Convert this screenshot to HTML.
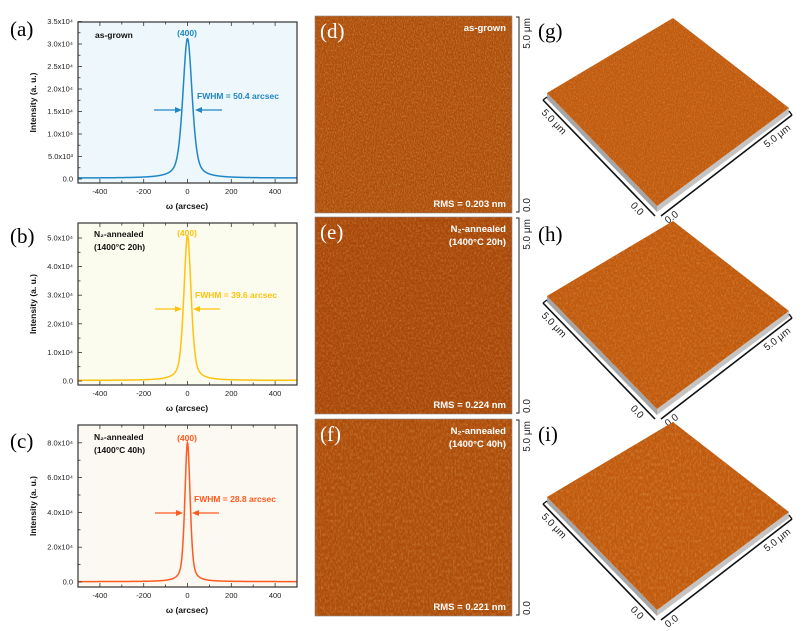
<!DOCTYPE html>
<html><head><meta charset="utf-8"><style>
html,body{margin:0;padding:0;background:#fff;}
svg{display:block;}
text{font-family:"Liberation Sans",Arial,sans-serif;}
.lab{font-family:"Liberation Serif",serif;font-size:21px;}
.tk{font-size:7.5px;fill:#222;}
.ax{font-size:8.5px;font-weight:bold;fill:#111;}
.w{fill:#fff;font-weight:bold;font-size:9.5px;}
.sb{font-size:10px;fill:#222;}
</style></head><body>
<svg id="s" width="809" height="631" viewBox="0 0 809 631" xmlns="http://www.w3.org/2000/svg">
<defs id="defs">
<filter id="n1" x="0" y="0" width="100%" height="100%">
 <feTurbulence type="fractalNoise" baseFrequency="0.9 0.5" numOctaves="2" seed="3"/>
 <feColorMatrix type="matrix" values="0 0 0 0 1  0 0 0 0 0.75  0 0 0 0 0.3  1.4 0 0 0 -0.55"/>
</filter>
<filter id="n2" x="0" y="0" width="100%" height="100%">
 <feTurbulence type="fractalNoise" baseFrequency="0.6 0.4" numOctaves="3" seed="7"/>
 <feColorMatrix type="matrix" values="0 0 0 0 1  0 0 0 0 0.7  0 0 0 0 0.25  1.4 0 0 0 -0.55"/>
</filter>
<filter id="n3" x="0" y="0" width="100%" height="100%">
 <feTurbulence type="fractalNoise" baseFrequency="0.6 0.3" numOctaves="3" seed="11"/>
 <feColorMatrix type="matrix" values="0 0 0 0 1  0 0 0 0 0.7  0 0 0 0 0.25  1.4 0 0 0 -0.55"/>
</filter>
</defs>
<g id="plots"></g>

<text class="lab" x="10" y="36">(a)</text>
<text class="lab" x="10" y="243">(b)</text>
<text class="lab" x="10" y="448">(c)</text>

<text x="95" y="38" font-size="8.5" font-weight="bold" fill="#111">as-grown</text>
<text x="187" y="36" font-size="8.5" font-weight="bold" fill="#1f86c8" text-anchor="middle">(400)</text>
<text x="197" y="99" font-size="8.5" font-weight="bold" fill="#1f86c8">FWHM = 50.4 arcsec</text>
<text x="94" y="237" font-size="8.5" font-weight="bold" fill="#111">N₂-annealed</text>
<text x="94" y="250" font-size="8.5" font-weight="bold" fill="#111">(1400°C 20h)</text>
<text x="187" y="236" font-size="8.5" font-weight="bold" fill="#ffc20e" text-anchor="middle">(400)</text>
<text x="195" y="298" font-size="8.5" font-weight="bold" fill="#ffc20e">FWHM = 39.6 arcsec</text>
<text x="94" y="440" font-size="8.5" font-weight="bold" fill="#111">N₂-annealed</text>
<text x="94" y="453" font-size="8.5" font-weight="bold" fill="#111">(1400°C 40h)</text>
<text x="187" y="441" font-size="8.5" font-weight="bold" fill="#ff5a1f" text-anchor="middle">(400)</text>
<text x="194" y="502" font-size="8.5" font-weight="bold" fill="#ff5a1f">FWHM = 28.8 arcsec</text>

<g id="afm"></g>
<g id="afm3"></g>
</svg>
<script>
const NS="http://www.w3.org/2000/svg";
function el(p,t,a,txt){const e=document.createElementNS(NS,t);for(const k in a)e.setAttribute(k,a[k]);if(txt!==undefined)e.textContent=txt;p.appendChild(e);return e;}
const P=document.getElementById('plots');
const X0=78,X1=297;const xs=v=>X0+(v+500)*0.219;
const cfg=[
 {top:22,bot:183,zero:179,per:45,peak:3.1,hw:25.2,col:'#1f86c8',bg:'#eef7fb',ticks:[[0,'0.0'],[0.5,'5.0x10³'],[1,'1.0x10⁴'],[1.5,'1.5x10⁴'],[2,'2.0x10⁴'],[2.5,'2.5x10⁴'],[3,'3.0x10⁴'],[3.5,'3.5x10⁴']],ay:110,ar:[154,182,222,195]},
 {top:223,bot:385,zero:381,per:28.6,peak:5.05,hw:19.8,col:'#ffc20e',bg:'#fcfcee',ticks:[[0,'0.0'],[1,'1.0x10⁴'],[2,'2.0x10⁴'],[3,'3.0x10⁴'],[4,'4.0x10⁴'],[5,'5.0x10⁴']],ay:309,ar:[155,182,220,193]},
 {top:425,bot:587,zero:582,per:17.4,peak:8.0,hw:14.4,col:'#ff5a1f',bg:'#fcf8f2',ticks:[[0,'0.0'],[2,'2.0x10⁴'],[4,'4.0x10⁴'],[6,'6.0x10⁴'],[8,'8.0x10⁴']],ay:513,ar:[155,183,219,192]}
];
cfg.forEach(c=>{
 el(P,'rect',{x:X0,y:c.top,width:X1-X0,height:c.bot-c.top,fill:c.bg});
 let d='';
 for(let v=-500;v<=500;v+=1){
  const u=v/c.hw;const L=1/(1+u*u);const G=Math.exp(-Math.LN2*u*u);
  const y=c.peak*(0.5*L+0.5*G)+0.02;
  d+=(v==-500?'M':'L')+xs(v).toFixed(2)+','+(c.zero-y*c.per).toFixed(2);
 }
 el(P,'path',{d:d,fill:'none',stroke:c.col,'stroke-width':1.5});
 el(P,'rect',{x:X0,y:c.top,width:X1-X0,height:c.bot-c.top,fill:'none',stroke:'#333','stroke-width':1.2});
 for(let v=-400;v<=400;v+=100){const x=xs(v);const L=(v%200==0)?4:2.5;
  el(P,'line',{x1:x,y1:c.bot,x2:x,y2:c.bot-L,stroke:'#333','stroke-width':0.8});
  el(P,'line',{x1:x,y1:c.top,x2:x,y2:c.top+L,stroke:'#333','stroke-width':0.8});
  if(v%200==0)el(P,'text',{x:x,y:c.bot+11,class:'tk','text-anchor':'middle'},v==0?'0':String(v));}
 el(P,'text',{x:187,y:c.bot+26,class:'ax','text-anchor':'middle'},'ω (arcsec)');
 const step=c.ticks[1][0];
 c.ticks.forEach(([v,l])=>{const y=c.zero-v*c.per;
  el(P,'line',{x1:X0,y1:y,x2:X0+4,y2:y,stroke:'#333','stroke-width':0.8});
  el(P,'text',{x:X0-5,y:y+2.5,class:'tk','text-anchor':'end'},l);
  const ym=c.zero-(v+step/2)*c.per; if(ym>c.top+2) el(P,'line',{x1:X0,y1:ym,x2:X0+2.5,y2:ym,stroke:'#333','stroke-width':0.8});
 });
 const cy=(c.top+c.bot)/2;
 el(P,'text',{x:0,y:0,class:'ax','text-anchor':'middle',transform:`translate(36,${cy}) rotate(-90)`},'Intensity (a. u.)');
 const [a1,a2,b1,b2]=c.ar;
 el(P,'line',{x1:a1,y1:c.ay,x2:a2-5,y2:c.ay,stroke:c.col,'stroke-width':1.2});
 el(P,'polygon',{points:`${a2},${c.ay} ${a2-7},${c.ay-3} ${a2-7},${c.ay+3}`,fill:c.col});
 el(P,'line',{x1:b1,y1:c.ay,x2:b2+5,y2:c.ay,stroke:c.col,'stroke-width':1.2});
 el(P,'polygon',{points:`${b2},${c.ay} ${b2+7},${c.ay-3} ${b2+7},${c.ay+3}`,fill:c.col});
});
const A=document.getElementById('afm');
const afm=[
 {y:16,f:'n1',base:'#ad4c0a',op:0.5,l:'(d)',t:['as-grown'],rms:'RMS = 0.203 nm'},
 {y:217,f:'n2',base:'#a84709',op:0.4,l:'(e)',t:['N₂-annealed','(1400°C 20h)'],rms:'RMS = 0.224 nm'},
 {y:419,f:'n3',base:'#ad4d0b',op:0.4,l:'(f)',t:['N₂-annealed','(1400°C 40h)'],rms:'RMS = 0.221 nm'}
];
afm.forEach(a=>{
 el(A,'rect',{x:315,y:a.y,width:197,height:197,fill:a.base});
 el(A,'rect',{x:315,y:a.y,width:197,height:197,filter:`url(#${a.f})`,opacity:a.op});
 el(A,'rect',{x:315,y:a.y,width:197,height:197,fill:'none',stroke:'#888','stroke-width':0.6});
 el(A,'text',{x:320,y:a.y+22,class:'lab',fill:'#fff'},a.l);
 a.t.forEach((t,i)=>el(A,'text',{x:506,y:a.y+15+i*13,class:'w','text-anchor':'end'},t));
 el(A,'text',{x:506,y:a.y+191,class:'w','text-anchor':'end'},a.rms);
 el(A,'path',{d:`M516,${a.y+1} H519 V${a.y+196} H516`,fill:'none',stroke:'#222','stroke-width':1});
 el(A,'text',{x:0,y:0,class:'sb','text-anchor':'end',transform:`translate(530,${a.y+2}) rotate(-90)`},'5.0 μm');
 el(A,'text',{x:0,y:0,class:'sb','text-anchor':'start',transform:`translate(530,${a.y+196}) rotate(-90)`},'0.0');
});
const B=document.getElementById('afm3');
const defs=document.getElementById('defs');
[0,203,404].forEach((dy,i)=>{
 const T=[673,18+dy],Lv=[547,93+dy],R=[789,108+dy],Bm=[657,206+dy];const h=6;
 el(B,'polygon',{points:`${Lv} ${Bm} ${Bm[0]},${Bm[1]+h} ${Lv[0]},${Lv[1]+h}`,fill:'#a6a6a6'});
 el(B,'polygon',{points:`${Bm} ${R} ${R[0]},${R[1]+h} ${Bm[0]},${Bm[1]+h}`,fill:'#c4c4c4'});
 const pts=`${T} ${R} ${Bm} ${Lv}`;
 const cp=el(defs,'clipPath',{id:'cp'+i});el(cp,'polygon',{points:pts});
 el(B,'polygon',{points:pts,fill:'#c0590e'});
 el(B,'rect',{x:547,y:18+dy,width:242,height:188,filter:`url(#n${i+1})`,opacity:0.4,'clip-path':`url(#cp${i})`});
 el(B,'line',{x1:543,y1:100+dy,x2:655,y2:216+dy,stroke:'#111','stroke-width':1.6});
 el(B,'line',{x1:661,y1:216+dy,x2:792,y2:115+dy,stroke:'#111','stroke-width':1.6});
 el(B,'line',{x1:543,y1:100+dy,x2:547,y2:97+dy,stroke:'#111','stroke-width':1.4});
 el(B,'line',{x1:792,y1:115+dy,x2:789,y2:111+dy,stroke:'#111','stroke-width':1.4});
 el(B,'text',{x:0,y:0,class:'sb',transform:`translate(541,${113+dy}) rotate(46)`},'5.0 μm');
 el(B,'text',{x:0,y:0,class:'sb',transform:`translate(630,${206+dy}) rotate(46)`},'0.0');
 el(B,'text',{x:0,y:0,class:'sb',transform:`translate(668,${224+dy}) rotate(-38)`},'0.0');
 el(B,'text',{x:0,y:0,class:'sb',transform:`translate(767,${148+dy}) rotate(-38)`},'5.0 μm');
 el(B,'text',{x:538,y:[38,241,441][i],class:'lab'},['(g)','(h)','(i)'][i]);
});
</script>
</body></html>
